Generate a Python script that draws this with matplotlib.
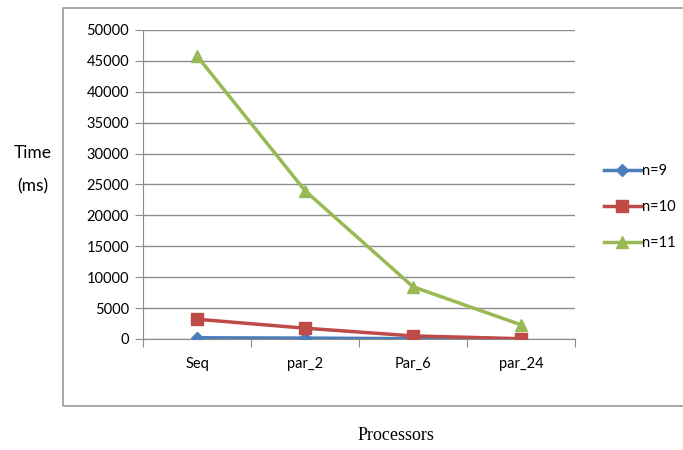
import matplotlib
matplotlib.use("Agg")
import matplotlib.pyplot as plt
from matplotlib.patches import Rectangle

categories = ["Seq", "par_2", "Par_6", "par_24"]
n9 = [200, 150, 50, 20]
n10 = [3200, 1750, 500, 50]
n11 = [45800, 24000, 8450, 2300]
yticks = list(range(0, 50001, 5000))

plt.rcParams["font.family"] = ["Lato", "DejaVu Sans"]

W, H = 683, 450
fig = plt.figure(figsize=(W / 100, H / 100), dpi=100)
fig.patch.set_facecolor("white")

# outer frame
fig.add_artist(Rectangle((63 / W, 1 - 406 / H), (W + 10 - 63) / W, (406 - 8) / H,
                         transform=fig.transFigure, fill=False,
                         edgecolor="#999999", linewidth=1.2, clip_on=False))

ax = fig.add_axes([143 / W, 1 - 339 / H, (575 - 143) / W, (339 - 30) / H])
x = list(range(len(categories)))

ax.plot(x, n9, color="#4A7EBB", linewidth=2.5, marker="D", markersize=6.5, label="n=9", zorder=3)
ax.plot(x, n10, color="#BE4B48", linewidth=2.5, marker="s", markersize=9, label="n=10", zorder=4)
ax.plot(x, n11, color="#98B954", linewidth=2.5, marker="^", markersize=9, label="n=11", zorder=5)

ax.set_xlim(-0.5, len(categories) - 0.5)
ax.set_ylim(0, 50000)
ax.set_yticks(yticks)
ax.set_yticklabels([str(v) for v in yticks], fontsize=10.5)
ax.yaxis.grid(True, color="#8c8c8c", linewidth=1)
ax.set_axisbelow(True)

ax.set_xticks([i + 0.5 for i in x[:-1]] + [-0.5, len(categories) - 0.5])
ax.set_xticklabels([])
for i, c in enumerate(categories):
    ax.text(i, -4000, c, ha="center", va="center", fontsize=10.5)

for s in ["top", "right"]:
    ax.spines[s].set_visible(False)
ax.spines["left"].set_color("#8c8c8c")
ax.spines["bottom"].set_color("#8c8c8c")
ax.tick_params(axis="y", length=6, color="#8c8c8c", pad=4)
ax.tick_params(axis="x", length=6, color="#8c8c8c", direction="out")

fig.text(33 / W, 1 - 153 / H, "Time", ha="center", va="center", fontsize=12.5)
fig.text(33 / W, 1 - 186 / H, "(ms)", ha="center", va="center", fontsize=12.5)
fig.text(396 / W, 1 - 436 / H, "Processors", ha="center", va="center", fontsize=13,
         family="Liberation Serif")

leg = ax.legend(loc="center left", bbox_to_anchor=(591 / W, 1 - 207 / H),
                bbox_transform=fig.transFigure, frameon=False, fontsize=10.5,
                handlelength=2.5, handletextpad=0.1, labelspacing=1.5)

fig.savefig("out.png", dpi=100)
